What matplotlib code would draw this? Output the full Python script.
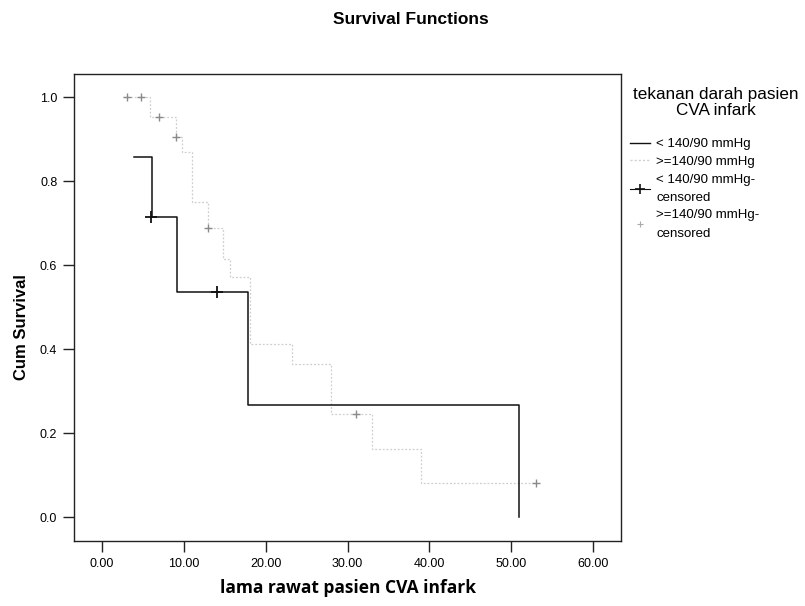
import matplotlib
matplotlib.use("Agg")
import matplotlib.pyplot as plt
from matplotlib.lines import Line2D

# ---- data ----
legend_title = "tekanan darah pasien\nCVA infark"
group_labels = ["< 140/90 mmHg", ">=140/90 mmHg",
                "< 140/90 mmHg-\ncensored", ">=140/90 mmHg-\ncensored"]

# group 1: < 140/90 mmHg
g1_time = [3.9, 6.1, 9.2, 17.8, 50.9, 50.9]
g1_surv = [0.857, 0.714, 0.536, 0.268, 0.0, 0.0]
g1_cens_time = [6.0, 14.0]
g1_cens_surv = [0.714, 0.536]

# group 2: >=140/90 mmHg
g2_time = [2.6, 5.9, 9.0, 9.8, 11.0, 12.9, 14.8, 15.6, 18.1, 23.2, 28.0, 33.0, 39.0, 53.0]
g2_surv = [1.0, 0.952, 0.905, 0.869, 0.75, 0.688, 0.614, 0.571, 0.413, 0.365, 0.245, 0.162, 0.081, 0.081]
g2_cens_time = [3.0, 4.8, 7.0, 9.0, 12.9, 31.0, 53.0]
g2_cens_surv = [1.0, 1.0, 0.952, 0.905, 0.688, 0.245, 0.081]

x_ticks = [0, 10, 20, 30, 40, 50, 60]
x_ticklabels = ["0.00", "10.00", "20.00", "30.00", "40.00", "50.00", "60.00"]
y_ticks = [0.0, 0.2, 0.4, 0.6, 0.8, 1.0]
y_ticklabels = ["0.0", "0.2", "0.4", "0.6", "0.8", "1.0"]

plt.rcParams['font.family'] = ['Liberation Sans', 'DejaVu Sans']

fig = plt.figure(figsize=(8.05, 6.06), dpi=100)
ax = fig.add_axes([74/805, 1 - 541/606, (621-74)/805, (541-74)/606])

c1 = "#111111"
c2 = "#cfcfcf"

ax.step(g1_time, g1_surv, where="post", color=c1, lw=1.1, zorder=3)
ax.plot(g1_cens_time, g1_cens_surv, ls="none", marker="+", ms=8, mew=1.3, color=c1, zorder=4)

ax.step(g2_time, g2_surv, where="post", color=c2, lw=0.9, ls=(0, (1.5, 1.5)), zorder=2)
ax.plot(g2_cens_time, g2_cens_surv, ls="none", marker="+", ms=6, mew=1.0, color="#8a8a8a", zorder=3)

ax.set_xlim(-3.42, 63.4)
ax.set_ylim(-0.057, 1.055)
ax.set_xticks(x_ticks)
ax.set_xticklabels(x_ticklabels, fontsize=9)
ax.set_yticks(y_ticks)
ax.set_yticklabels(y_ticklabels, fontsize=9)
ax.tick_params(direction="out", length=8, width=1, color="#222222", pad=4)
for s in ax.spines.values():
    s.set_linewidth(1.0)
    s.set_color("#222222")

ax.set_xlabel("lama rawat pasien CVA infark", fontsize=12.5, fontweight="bold",
              family=["Open Sans", "DejaVu Sans"], labelpad=7)
ax.set_ylabel("Cum Survival", fontsize=12, fontweight="bold")
ax.yaxis.set_label_coords(-0.082, 0.458)
fig.text(0.511, 0.967, "Survival Functions", ha="center", va="center",
         fontsize=12.5, fontweight="bold")

# legend title
fig.text(633/805, 1 - 87/606, legend_title, ha="left", va="top", fontsize=12.3,
         multialignment="center", linespacing=1.05)

handles = [
    Line2D([], [], color=c1, lw=1.0),
    Line2D([], [], color=c2, lw=1.0, ls=(0, (1.5, 1.5))),
    Line2D([], [], color=c1, lw=0.8, marker="+", ms=7, mew=1.2),
    Line2D([], [], color="none", marker="+", ms=5, mew=0.8, markeredgecolor="#aaaaaa"),
]
leg = fig.legend(handles, group_labels, loc="upper left",
                 bbox_to_anchor=(630/805, 1 - 138/606), bbox_transform=fig.transFigure,
                 frameon=False, fontsize=9.5, handlelength=1.5, handletextpad=0.5,
                 labelspacing=0.42, borderaxespad=0, borderpad=0)
for t in leg.get_texts():
    t.set_linespacing(1.7)

fig.savefig("out.png", dpi=100, facecolor="white")
